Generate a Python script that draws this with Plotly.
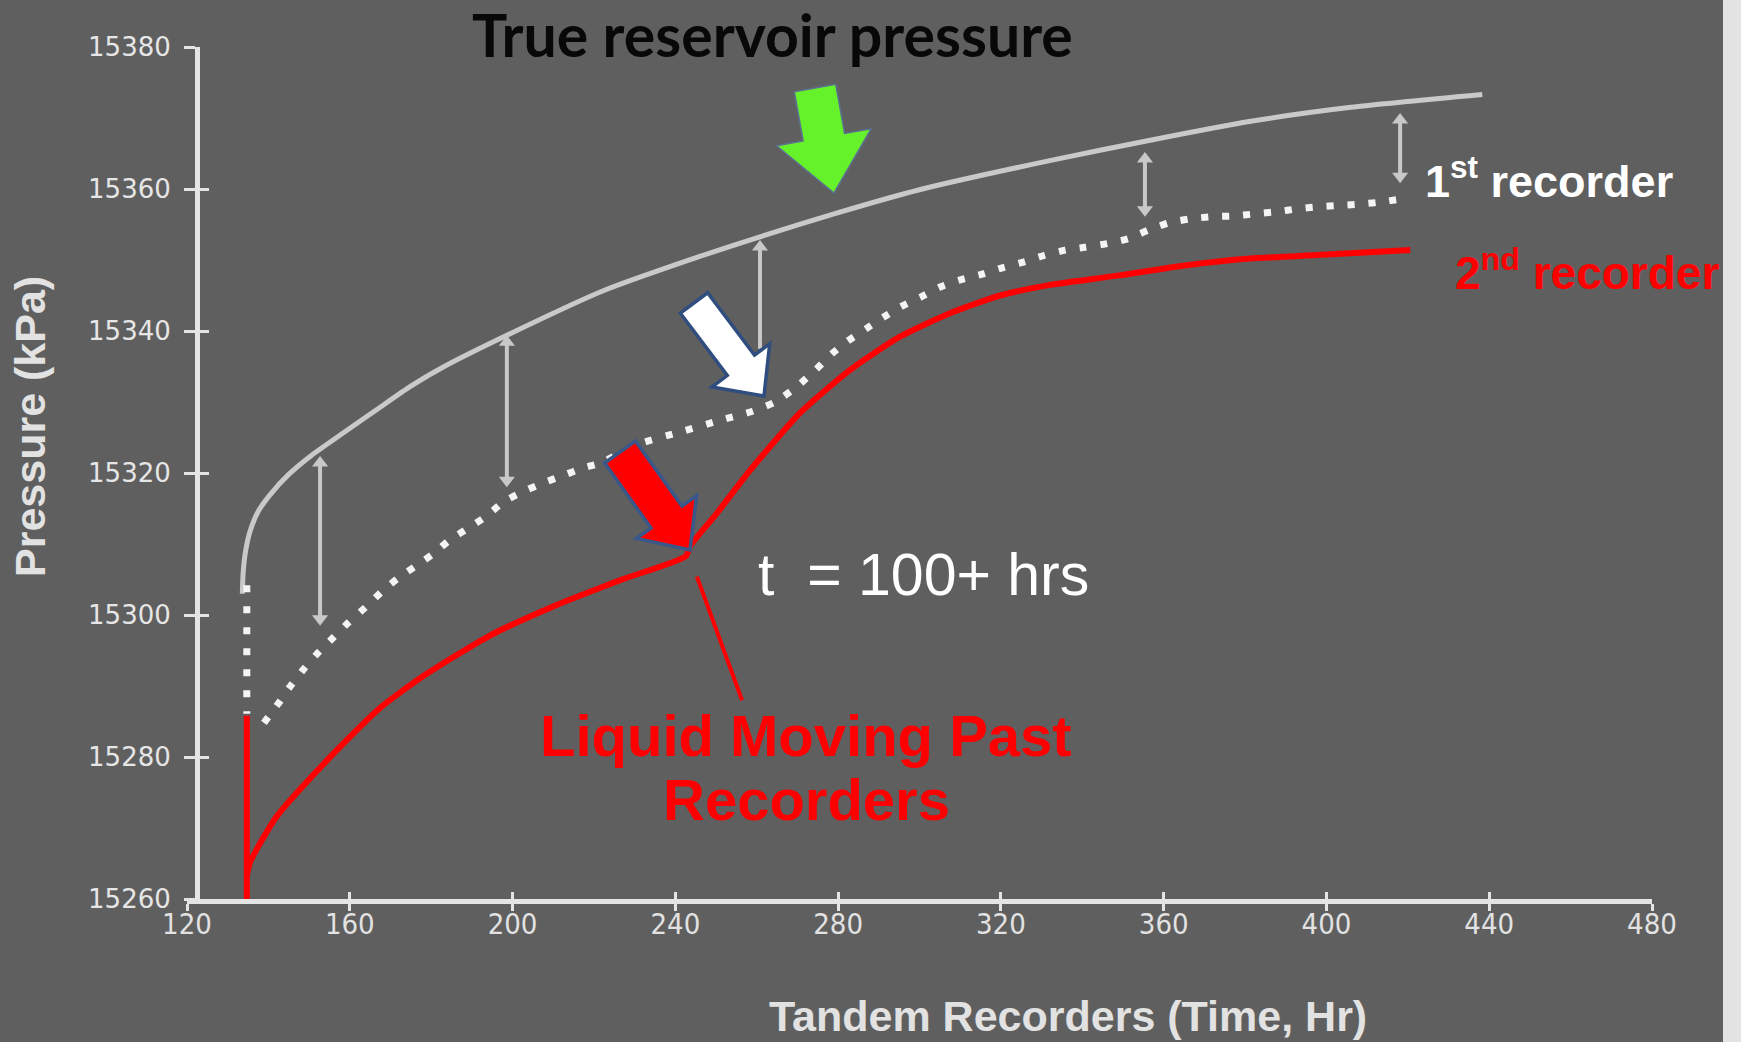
import plotly.graph_objects as go

# ---------------- data ----------------
x_ticks = [120, 160, 200, 240, 280, 320, 360, 400, 440, 480]
y_ticks = [15260, 15280, 15300, 15320, 15340, 15360, 15380]

# True reservoir pressure (grey solid)
true_t = [133.6, 133.8, 134.4, 135.5, 137.5, 140.5, 145.0, 150.4, 158.8, 167.3,
          174.9, 183.2, 198.6, 222.0, 246.0, 261.0, 279.0, 300.0, 332.0, 357.0,
          381.0, 406.0, 438.3]
true_p = [15303.0, 15306.0, 15309.0, 15311.8, 15314.6, 15317.0, 15319.8, 15322.4,
          15325.8, 15329.2, 15332.2, 15335.0, 15339.4, 15345.6, 15350.5, 15353.3,
          15356.5, 15359.9, 15364.0, 15366.9, 15369.5, 15371.5, 15373.3]

# 1st recorder (white dotted)
rec1_drop_t = [134.7, 134.7]
rec1_drop_p = [15304.2, 15286.1]
rec1_t = [138.9, 142.4, 145.3, 148.7, 151.9, 155.9, 159.6, 163.9, 167.7, 171.9,
          176.2, 180.5, 184.6, 189.3, 193.5, 197.7, 202.3, 207.5, 212.2, 217.2,
          221.5, 231.1, 241.4, 251.5, 259.0, 264.5, 269.5, 274.6, 278.5, 282.4,
          287.1, 291.3, 295.7, 300.4, 305.1, 310.0, 315.4, 320.3, 325.5, 330.4,
          335.8, 340.7, 346.1, 351.3, 356.2, 361.1, 366.5, 371.9, 377.1, 382.5,
          387.9, 392.8, 398.0, 403.4, 408.8, 413.9, 419.3]
rec1_p = [15284.8, 15287.5, 15289.9, 15292.4, 15294.5, 15296.8, 15298.9, 15301.1,
          15303.2, 15305.2, 15306.9, 15308.6, 15310.6, 15312.3, 15313.9, 15315.9,
          15317.3, 15318.6, 15319.6, 15320.7, 15321.4, 15324.1, 15325.8, 15327.5,
          15328.7, 15330.0, 15332.0, 15334.6, 15336.8, 15338.6, 15340.4, 15342.0,
          15343.5, 15344.8, 15346.2, 15347.2, 15348.0, 15348.9, 15349.7, 15350.6,
          15351.4, 15351.8, 15352.3, 15353.0, 15354.2, 15355.2, 15355.8, 15356.1,
          15356.2, 15356.5, 15356.8, 15357.2, 15357.5, 15357.7, 15357.9, 15358.2,
          15358.7]

# 2nd recorder (red solid)
rec2_drop_t = [134.7, 134.7]
rec2_drop_p = [15260.0, 15285.8]
rec2_t = [134.8, 135.5, 141.9, 154.7, 167.2, 177.8, 194.1, 210.4, 226.9, 242.6,
          243.6, 250.3, 258.4, 270.7, 282.9, 295.2, 307.5, 319.8, 332.1, 348.6,
          364.8, 381.2, 397.7, 420.6]
rec2_p = [15263.5, 15265.2, 15271.5, 15279.7, 15286.8, 15291.3, 15297.0, 15301.3,
          15305.0, 15308.3, 15309.7, 15314.4, 15320.4, 15328.5, 15334.5, 15339.2,
          15342.5, 15345.0, 15346.5, 15347.8, 15349.2, 15350.2, 15350.7, 15351.4]

# grey gap arrows between true pressure and 1st recorder
gap_t = [152.7, 198.6, 260.8, 355.4, 418.1]
gap_top = [15322.4, 15339.4, 15352.8, 15365.2, 15370.7]
gap_bottom = [15298.5, 15318.0, 15337.5, 15356.1, 15360.8]
gap_bottom_head = [True, True, False, True, True]

# red call-out line ("Liquid Moving Past Recorders")
callout_t = [245.3, 256.4]
callout_p = [15305.4, 15288.0]

# ---------------- geometry ----------------
W, H = 1741, 1042
ML, MR, MT, MB = 187, 89, 47, 143
PW, PH = W - ML - MR, H - MT - MB
BG = "#5f5f5f"
Y_RANGE = [15260, 15380]
HEAD_PX = 14
head_off = (HEAD_PX / 2) * (Y_RANGE[1] - Y_RANGE[0]) / PH   # half a head, in kPa


def paper(X, Y):
    return (X - ML) / PW, (H - MB - Y) / PH


def poly_path(pts):
    s = []
    for i, (X, Y) in enumerate(pts):
        px, py = paper(X, Y)
        s.append(("M" if i == 0 else "L") + f"{px:.5f},{py:.5f}")
    return " ".join(s) + " Z"


fig = go.Figure()

fig.add_trace(go.Scatter(x=true_t, y=true_p, mode="lines",
                         line=dict(color="#c9c9c9", width=5, shape="spline", smoothing=0.6),
                         hoverinfo="skip", showlegend=False))
fig.add_trace(go.Scatter(x=rec1_drop_t, y=rec1_drop_p, mode="lines",
                         line=dict(color="#f4f4f4", width=7, dash="7px,14px"),
                         hoverinfo="skip", showlegend=False))
fig.add_trace(go.Scatter(x=rec1_t, y=rec1_p, mode="lines",
                         line=dict(color="#f4f4f4", width=7, dash="7px,14px", shape="spline", smoothing=0.6),
                         hoverinfo="skip", showlegend=False))
fig.add_trace(go.Scatter(x=rec2_drop_t, y=rec2_drop_p, mode="lines",
                         line=dict(color="#ff0000", width=6),
                         hoverinfo="skip", showlegend=False))
fig.add_trace(go.Scatter(x=rec2_t, y=rec2_p, mode="lines",
                         line=dict(color="#ff0000", width=6, shape="spline", smoothing=0.6),
                         hoverinfo="skip", showlegend=False))
fig.add_trace(go.Scatter(x=callout_t, y=callout_p, mode="lines",
                         line=dict(color="#ff0000", width=4),
                         hoverinfo="skip", showlegend=False))

# grey double-headed gap arrows: shafts + triangular heads
shaft_x, shaft_y = [], []
for t, top, bot, bh in zip(gap_t, gap_top, gap_bottom, gap_bottom_head):
    shaft_x += [t, t, None]
    shaft_y += [top - head_off, bot + (head_off if bh else 0), None]
fig.add_trace(go.Scatter(x=shaft_x, y=shaft_y, mode="lines",
                         line=dict(color="#c8c8c8", width=4),
                         hoverinfo="skip", showlegend=False))
fig.add_trace(go.Scatter(x=gap_t, y=[v - head_off for v in gap_top], mode="markers",
                         marker=dict(symbol="triangle-up", size=HEAD_PX, color="#c8c8c8",
                                     line=dict(width=0)),
                         hoverinfo="skip", showlegend=False))
fig.add_trace(go.Scatter(x=[t for t, bh in zip(gap_t, gap_bottom_head) if bh],
                         y=[v + head_off for v, bh in zip(gap_bottom, gap_bottom_head) if bh],
                         mode="markers",
                         marker=dict(symbol="triangle-down", size=HEAD_PX, color="#c8c8c8",
                                     line=dict(width=0)),
                         hoverinfo="skip", showlegend=False))

# dummy trace for overlay axes (inside tick halves)
fig.add_trace(go.Scatter(x=[None], y=[None], xaxis="x2", yaxis="y2",
                         hoverinfo="skip", showlegend=False))

axis_col = "#e4e4e4"
ypos = (197 - ML) / PW

fig.update_layout(
    width=W, height=H, autosize=False,
    margin=dict(l=ML, r=MR, t=MT, b=MB, pad=0),
    paper_bgcolor=BG, plot_bgcolor=BG,
    showlegend=False,
    xaxis=dict(range=[120, 480], tickvals=x_ticks, ticktext=[str(v) for v in x_ticks],
               showgrid=False, zeroline=False, showline=True, linecolor=axis_col, linewidth=5,
               ticks="outside", ticklen=7, tickwidth=3, tickcolor=axis_col,
               ticklabelstandoff=-12,
               tickfont=dict(family="Liberation Sans Narrow, DejaVu Sans Condensed, sans-serif",
                             size=29, color="#e2e2e2"),
               fixedrange=True),
    yaxis=dict(range=Y_RANGE, tickvals=y_ticks, ticktext=[str(v) for v in y_ticks],
               anchor="free", position=ypos,
               showgrid=False, zeroline=False, showline=True, linecolor=axis_col, linewidth=5,
               ticks="outside", ticklen=11, tickwidth=3, tickcolor=axis_col,
               ticklabelstandoff=8,
               tickfont=dict(family="DejaVu Sans, sans-serif", size=26, color="#e6e6e6"),
               fixedrange=True),
    xaxis2=dict(range=[120, 480], tickvals=x_ticks, overlaying="x", anchor="y2",
                showgrid=False, zeroline=False, showline=False, showticklabels=False,
                ticks="inside", ticklen=7, tickwidth=3, tickcolor=axis_col, fixedrange=True),
    yaxis2=dict(range=Y_RANGE, tickvals=y_ticks, overlaying="y", anchor="free",
                position=ypos, side="left",
                showgrid=False, zeroline=False, showline=False, showticklabels=False,
                ticks="inside", ticklen=11, tickwidth=3, tickcolor=axis_col, fixedrange=True),
)

# block arrows (pixel geometry -> paper coordinates)
green_arrow = [(794.3, 91.7), (835.7, 84.3), (844.6, 133.5), (871.2, 128.7), (834, 193),
               (776.6, 145.7), (803.2, 140.9)]
white_arrow = [(680.4, 313.2), (707.6, 292.8), (754.5, 355.1), (769.7, 343.7), (764, 396),
               (712.1, 386.9), (727.3, 375.5)]
red_arrow = [(604.6, 463), (635.4, 441), (682, 506), (696.6, 495.6), (690, 550),
             (636.4, 538.4), (651, 528)]

shapes = [
    dict(type="path", xref="paper", yref="paper", path=poly_path(green_arrow),
         fillcolor="#66f22a", line=dict(color="#5c7090", width=1.5), layer="above"),
    dict(type="path", xref="paper", yref="paper", path=poly_path(white_arrow),
         fillcolor="#ffffff", line=dict(color="#2f4d7e", width=3.5), layer="above"),
    dict(type="path", xref="paper", yref="paper", path=poly_path(red_arrow),
         fillcolor="#ff0000", line=dict(color="#3a578a", width=3.5), layer="above"),
]
sx0, _ = paper(1723, 0)
sx1, _ = paper(1741, 0)
_, sy0 = paper(0, 1042)
_, sy1 = paper(0, 0)
shapes.append(dict(type="rect", xref="paper", yref="paper", x0=sx0, x1=sx1, y0=sy0, y1=sy1,
                   fillcolor="#e3e3e3", line=dict(width=0), layer="above"))
fig.update_layout(shapes=shapes)


def label(text, X, Y, size, color, family="Liberation Sans, Arial, sans-serif", weight="bold",
          xanchor="left", angle=0):
    px, py = paper(X, Y)
    return dict(text=text, x=px, y=py, xref="paper", yref="paper", showarrow=False,
                xanchor=xanchor, yanchor="middle", textangle=angle,
                font=dict(family=family, size=size, color=color, weight=weight))


annotations = [
    label("True reservoir pressure", 772, 34, 59, "#080808", family="Lato, sans-serif",
          xanchor="center"),
    label("1<sup>st</sup> recorder", 1423, 178, 45, "#ffffff"),
    label("2<sup>nd</sup> recorder", 1453, 270, 46, "#ff0000"),
    label("t  = 100+ hrs", 756, 575, 59, "#ffffff", weight="normal"),
    label("Liquid Moving Past", 806, 735, 58, "#ff0000", xanchor="center"),
    label("Recorders", 806, 799, 58, "#ff0000", xanchor="center"),
    label("Pressure (kPa)", 30, 427, 43, "#e2e2e2", xanchor="center", angle=-90),
    label("Tandem Recorders (Time, Hr)", 1068, 1016, 43, "#e2e2e2", xanchor="center"),
]
fig.update_layout(annotations=annotations)

fig.write_html("out.html", config={"displayModeBar": False, "staticPlot": True},
               post_script="document.body.style.margin='0';document.body.style.overflow='hidden';")
